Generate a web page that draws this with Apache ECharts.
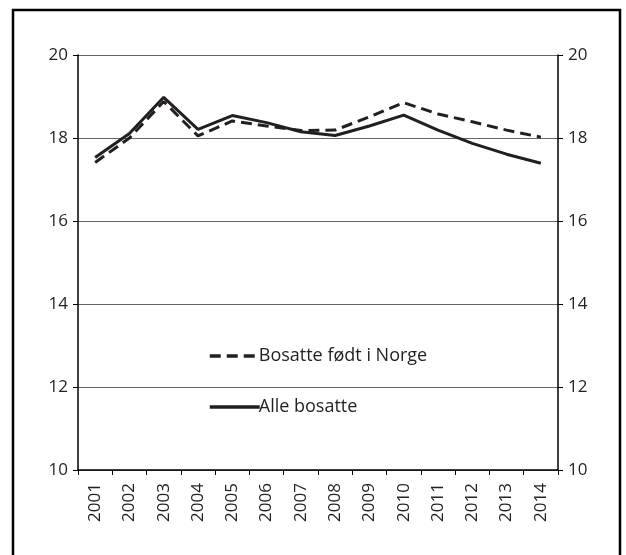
<!DOCTYPE html>
<html><head><meta charset="utf-8">
<script src="https://cdn.jsdelivr.net/npm/echarts@6/dist/echarts.min.js"></script>
<style>html,body{margin:0;padding:0;background:#fff}#c{width:626px;height:555px}</style>
</head><body><div id="c"></div>
<script>
const years = ['2001','2002','2003','2004','2005','2006','2007','2008','2009','2010','2011','2012','2013','2014'];
const bosatteFodtINorge = [17.41,18.0,18.88,18.05,18.41,18.29,18.18,18.19,18.51,18.85,18.58,18.39,18.19,18.02];
const alleBosatte = [17.53,18.11,18.98,18.21,18.54,18.37,18.15,18.06,18.29,18.55,18.19,17.87,17.61,17.39];
const yTicks = {min:10, max:20, interval:2};

const font = 'Open Sans';
const txt = '#231f20';
const chart = echarts.init(document.getElementById('c'), null, {renderer:'canvas'});
const yAxisBase = (pos) => ({
  type:'value', position:pos, min:yTicks.min, max:yTicks.max, interval:yTicks.interval,
  axisLine:{show:true, lineStyle:{color:'#000', width:1.5}},
  axisTick:{show:true, length:5, lineStyle:{color:'#000'}},
  axisLabel:{color:txt, fontSize:17, fontFamily:font, margin:10},
  splitLine:{show:pos==='left', lineStyle:{color:'#666', width:1}}
});
chart.setOption({
  animation:false,
  graphic:[{type:'rect', shape:{x:13,y:10,width:607,height:560}, style:{fill:'none', stroke:'#000', lineWidth:2.5}, silent:true}],
  grid:{left:78, right:68, top:55, bottom:85},
  legend:{
    orient:'vertical', left:203, top:342, itemWidth:50, itemHeight:14, itemGap:33,
    itemStyle:{opacity:0},
    lineStyle:{width:3.5},
    textStyle:{color:txt, fontSize:18, fontFamily:font, padding:[0,0,0,-6]},
    data:['Bosatte født i Norge','Alle bosatte']
  },
  xAxis:{
    type:'category', data:years, boundaryGap:true,
    axisLine:{lineStyle:{color:'#000', width:1.5}},
    axisTick:{show:true, length:5, alignWithLabel:false, lineStyle:{color:'#000'}},
    axisLabel:{rotate:90, color:txt, fontSize:17, fontFamily:font, margin:13, interval:0}
  },
  yAxis:[yAxisBase('left'), yAxisBase('right')],
  series:[
    {name:'Bosatte født i Norge', type:'line', data:bosatteFodtINorge, symbol:'none',
     lineStyle:{color:'#231f20', width:3, type:[11,6]}, itemStyle:{color:'#231f20'}},
    {name:'Alle bosatte', type:'line', data:alleBosatte, symbol:'none',
     lineStyle:{color:'#231f20', width:3, type:'solid'}, itemStyle:{color:'#231f20'}}
  ]
});
</script></body></html>
